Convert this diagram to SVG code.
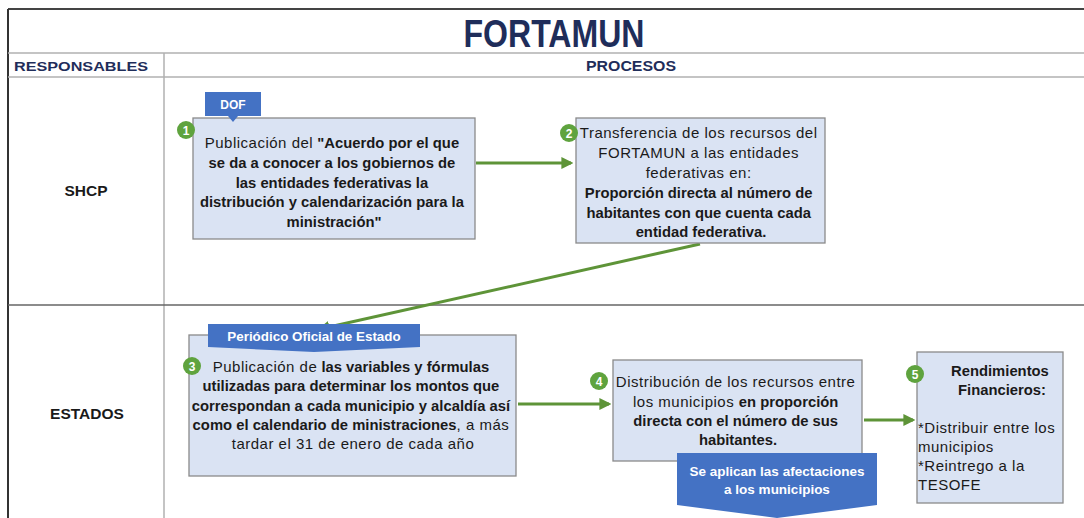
<svg xmlns="http://www.w3.org/2000/svg" width="1084" height="518" viewBox="0 0 1084 518">
<style>
.t{font-family:"Liberation Sans",Arial,sans-serif;fill:#1a1a1a;font-size:15px;letter-spacing:0.5px;}
.b{font-weight:bold;font-size:14.8px;letter-spacing:0px;}
.r{font-weight:normal;font-size:15px;letter-spacing:0.5px;}
.box{fill:#dae3f3;stroke:#8a8a8a;stroke-width:1.3;}
.tab{fill:#4472c4;}
.wt{font-family:"Liberation Sans",Arial,sans-serif;fill:#ffffff;font-weight:bold;}
.num{fill:#5fa33e;}
.conn{stroke:#5e9438;stroke-width:3;fill:none;}
.grid{stroke:#b0b0b0;stroke-width:1.5;}
.hdr{font-family:"Liberation Sans",Arial,sans-serif;font-weight:bold;fill:#1f2d5a;}
</style>
<defs>
<marker id="ah" viewBox="0 0 10 10" refX="8" refY="5" markerWidth="4" markerHeight="4" orient="auto">
<path d="M0,0 L10,5 L0,10 Z" fill="#5e9438"/>
</marker>
</defs>
<rect x="0" y="0" width="1084" height="518" fill="#ffffff"/>
<g id="table">
<line x1="8" y1="9" x2="1084" y2="9" stroke="#444" stroke-width="2"/>
<line x1="8" y1="9" x2="8" y2="518" stroke="#333" stroke-width="2"/>
<line x1="8" y1="53" x2="1084" y2="53" class="grid"/>
<line x1="8" y1="77" x2="1084" y2="77" class="grid"/>
<line x1="164" y1="53" x2="164" y2="518" class="grid"/>
<line x1="8" y1="305" x2="1084" y2="305" stroke="#666" stroke-width="1.5"/>
<text x="554" y="47" class="hdr" font-size="38" text-anchor="middle" textLength="181" lengthAdjust="spacingAndGlyphs">FORTAMUN</text>
<text x="14" y="71" class="hdr" font-size="13.5" textLength="134" lengthAdjust="spacingAndGlyphs">RESPONSABLES</text>
<text x="631" y="71" class="hdr" font-size="14" text-anchor="middle" textLength="90" lengthAdjust="spacingAndGlyphs">PROCESOS</text>
<text x="86" y="196" class="t b" style="font-size:15.5px" text-anchor="middle">SHCP</text>
<text x="87" y="419" class="t b" style="font-size:15.5px" text-anchor="middle">ESTADOS</text>
</g>
<g id="connectors">
<line x1="476" y1="163" x2="571" y2="163" class="conn" marker-end="url(#ah)"/>
<line x1="700" y1="244" x2="320" y2="329" class="conn" marker-end="url(#ah)"/>
<line x1="518" y1="404" x2="609" y2="404" class="conn" marker-end="url(#ah)"/>
<line x1="864" y1="420" x2="913" y2="420" class="conn" marker-end="url(#ah)"/>
</g>
<g id="node1">
<rect x="193" y="118" width="282" height="121" class="box"/>
<path d="M205,92 H261 V116 H238 L233,122 L228,116 H205 Z" class="tab"/>
<text x="233" y="109" class="wt" font-size="12" text-anchor="middle">DOF</text>
<circle cx="186" cy="130" r="9" class="num"/>
<text x="186" y="134.5" class="wt" font-size="12" text-anchor="middle">1</text>
<text class="t b" text-anchor="middle">
<tspan x="334" y="148"><tspan class="r">Publicación del</tspan> "Acuerdo por el que</tspan>
<tspan x="334" y="168">se da a conocer a los gobiernos de</tspan>
<tspan x="334" y="188">las entidades federativas la</tspan>
<tspan x="334" y="207">distribución y calendarización para la</tspan>
<tspan x="334" y="227">ministración"</tspan>
</text>
</g>
<g id="node2">
<rect x="576" y="118" width="249" height="125" class="box"/>
<circle cx="569" cy="133" r="9" class="num"/>
<text x="569" y="137.5" class="wt" font-size="12" text-anchor="middle">2</text>
<text class="t" text-anchor="middle">
<tspan x="701" y="138">Transferencia de los recursos del</tspan>
<tspan x="701" y="158">FORTAMUN a las entidades</tspan>
<tspan x="701" y="178">federativas en:</tspan>
<tspan x="701" y="198" class="b">Proporción directa al número de</tspan>
<tspan x="701" y="218" class="b">habitantes con que cuenta cada</tspan>
<tspan x="701" y="237" class="b">entidad federativa.</tspan>
</text>
</g>
<g id="node3">
<rect x="189" y="335" width="327" height="141" class="box"/>
<path d="M208,324 H420 V347 L314,352 L208,347 Z" class="tab"/>
<text x="314" y="341" class="wt" font-size="13.4" text-anchor="middle">Periódico Oficial de Estado</text>
<circle cx="192" cy="366" r="9" class="num"/>
<text x="192" y="370.5" class="wt" font-size="12" text-anchor="middle">3</text>
<text class="t b" text-anchor="middle">
<tspan x="353" y="372"><tspan class="r">Publicación de</tspan> las variables y fórmulas</tspan>
<tspan x="353" y="391">utilizadas para determinar los montos que</tspan>
<tspan x="353" y="411">correspondan a cada municipio y alcaldía así</tspan>
<tspan x="353" y="430">como el calendario de ministraciones<tspan class="r">, a más</tspan></tspan>
<tspan x="353" y="449" class="r">tardar el 31 de enero de cada año</tspan>
</text>
</g>
<g id="node4">
<rect x="613" y="360" width="249" height="101" class="box"/>
<circle cx="599" cy="381" r="9" class="num"/>
<text x="599" y="385.5" class="wt" font-size="12" text-anchor="middle">4</text>
<text class="t" text-anchor="middle">
<tspan x="738" y="387">Distribución de los recursos entre</tspan>
<tspan x="738" y="407">los municipios <tspan class="b">en proporción</tspan></tspan>
<tspan x="738" y="426" class="b">directa con el número de sus</tspan>
<tspan x="738" y="445" class="b">habitantes.</tspan>
</text>
<path d="M677,453 H877 V505 L777,518 L677,505 Z" class="tab"/>
<text x="777" y="476" class="wt" font-size="13.5" text-anchor="middle">Se aplican las afectaciones</text>
<text x="777" y="494" class="wt" font-size="13.5" text-anchor="middle">a los municipios</text>
</g>
<g id="node5">
<rect x="917" y="352" width="146" height="151" class="box"/>
<circle cx="915" cy="374" r="9" class="num"/>
<text x="915" y="378.5" class="wt" font-size="12" text-anchor="middle">5</text>
<text class="t b" text-anchor="middle">
<tspan x="1002" y="376">Rendimientos</tspan>
<tspan x="1002" y="395">Financieros:</tspan>
</text>
<text class="t">
<tspan x="918" y="433">*Distribuir entre los</tspan>
<tspan x="918" y="452">municipios</tspan>
<tspan x="918" y="471">*Reintrego a la</tspan>
<tspan x="918" y="490">TESOFE</tspan>
</text>
</g>
</svg>
